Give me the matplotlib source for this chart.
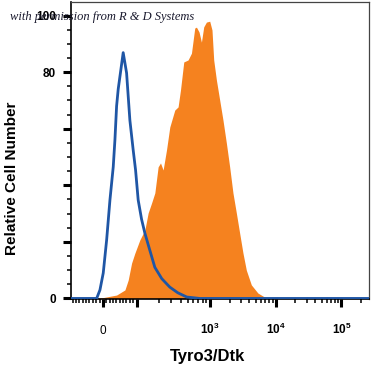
import numpy as np
import matplotlib
matplotlib.use("Agg")
import matplotlib.pyplot as plt
from matplotlib.ticker import FixedLocator, FixedFormatter

# ---- data ----
blue_x = [-95, -40, -18.7, -8.9, 0.9, 11, 20.8, 30.6, 35.6, 40.6, 45.4, 60.2, 70.3, 80.1,
          89.9, 97, 105.2, 117, 129.8, 151.9, 177.7, 221, 284.6, 366, 485.6, 730.3, 262144]
blue_y = [0, 0, 0, 3.0, 9.0, 20.7, 34.8, 46.5, 56, 68, 74, 86.9, 79.7, 63,
          52.5, 45.4, 34.8, 28, 23.1, 17, 11, 7, 4, 2, 0.5, 0, 0]

orange_x = [-28.8, 0.9, 40.6, 65.3, 75.1, 85.2, 94.9, 110.9, 129.8, 143.9, 160.2, 177.7,
            197.1, 212.5, 230.6, 256.6, 284.6, 333.0, 369.4, 398.5, 441.9, 505.8, 562.8,
            624.4, 658.7, 714.5, 770.4, 828.2, 901.6, 1000, 1083, 1150, 1264, 1418, 1591,
            1791, 2009, 2254, 2538, 2848, 3195, 3597, 4283, 5393, 6808, 9101]
orange_y = [0, 0.3, 1.2, 3, 6.5, 12.5, 16, 20.7, 24.2, 30.2, 33.7, 37.3,
            46.5, 47.9, 45.4, 52.5, 60.6, 66.6, 67.7, 73.7, 83.6, 84.3, 86.7,
            95.6, 95.9, 94.2, 90.6, 96, 97.7, 98, 94.9, 84.3, 77.2, 70.1, 63,
            54.9, 46.5, 37.3, 30.2, 23.1, 16.1, 10, 4.8, 1.9, 0.5, 0]

x_major = [0, 100, 1000, 10000, 100000]
x_major_labels = ["0", "", "$10^{3}$", "$10^{4}$", "$10^{5}$"]
y_major = [0, 20, 40, 60, 80, 100]
y_major_labels = ["0", "", "", "", "80", "100"]

# ---- style ----
plt.rcParams['font.family'] = ['Liberation Sans', 'DejaVu Sans']
plt.rcParams['mathtext.fontset'] = 'custom'
plt.rcParams['mathtext.rm'] = 'Liberation Sans:bold'
plt.rcParams['mathtext.bf'] = 'Liberation Sans:bold'
plt.rcParams['mathtext.default'] = 'bf'

# logicle-like display transform (piecewise linear / log)
def fwd(x):
    x = np.asarray(x, dtype=float)
    with np.errstate(all='ignore'):
        lin = x * 0.005106
        mid = 0.5106 + 1.1106 * np.log10(np.maximum(x, 1e-9) / 100.0)
        hi = 1.6212 + np.log10(np.maximum(x, 1e-9) / 1000.0)
    return np.where(x <= 100, lin, np.where(x <= 1000, mid, hi))

def inv(f):
    f = np.asarray(f, dtype=float)
    with np.errstate(all='ignore'):
        lin = f / 0.005106
        mid = 100.0 * 10 ** ((f - 0.5106) / 1.1106)
        hi = 1000.0 * 10 ** (f - 1.6212)
    return np.where(f <= 0.5106, lin, np.where(f <= 1.6212, mid, hi))

fig = plt.figure(figsize=(3.71, 3.72), dpi=100)
ax = fig.add_axes([71/371, 1-299/372, 298/371, 297/372])
ax.set_xscale('function', functions=(fwd, inv))

ax.fill_between(orange_x, orange_y, 0, color='#f5821f', linewidth=0, zorder=2)
ax.plot(blue_x, blue_y, color='#1f56a5', linewidth=2.0, zorder=3, solid_joinstyle='round')

ax.set_xlim(-95, 262144)
ax.set_ylim(-0.2, 104.8)

ax.xaxis.set_major_locator(FixedLocator(x_major))
ax.xaxis.set_major_formatter(FixedFormatter(x_major_labels))
minor_x = [v for v in range(-90, 100, 10) if v != 0] + \
          [m * 10 ** e for e in (2, 3, 4) for m in range(2, 10)] + [200000]
ax.xaxis.set_minor_locator(FixedLocator(minor_x))

ax.yaxis.set_major_locator(FixedLocator(y_major))
ax.yaxis.set_major_formatter(FixedFormatter(y_major_labels))
ax.yaxis.set_minor_locator(FixedLocator([v for v in range(5, 105, 5) if v % 20 != 0]))

ax.tick_params(axis='both', which='major', direction='out', length=6, width=2.2,
               labelsize=8.5, color='black')
ax.tick_params(axis='both', which='minor', direction='out', length=3, width=1.1, color='black')
ax.tick_params(axis='x', which='major', pad=19)
ax.tick_params(axis='y', which='major', pad=5)
for lbl in ax.get_xticklabels():
    lbl.set_verticalalignment('baseline')
for lbl in ax.get_yticklabels():
    lbl.set_fontweight('bold')

for s in ['left', 'bottom']:
    ax.spines[s].set_color('black')
    ax.spines[s].set_linewidth(1.2)
for s in ['top', 'right']:
    ax.spines[s].set_color('#444444')
    ax.spines[s].set_linewidth(0.9)

fig.text(12/371, 1-178/372, "Relative Cell Number", rotation=90, ha='center', va='center',
         fontsize=11, fontweight='bold')
fig.text(208/371, 1-357/372, "Tyro3/Dtk", ha='center', va='center',
         fontsize=12, fontweight='bold')
fig.text(10/371, 1-17/372, "with permission from R & D Systems", ha='left', va='center',
         fontsize=9, fontstyle='italic', family=['Liberation Serif', 'DejaVu Serif'],
         color='#1a1a2e', zorder=10)

fig.savefig("out.png", dpi=100)
